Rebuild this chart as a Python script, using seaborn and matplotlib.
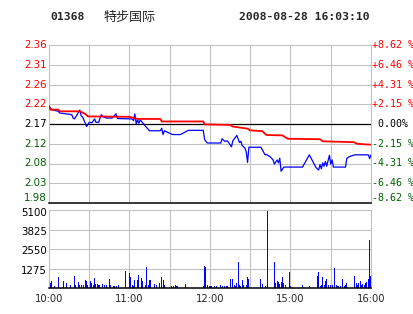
import numpy as np
import pandas as pd
import matplotlib
matplotlib.use("Agg")
import matplotlib.pyplot as plt
import seaborn as sns

# ---------------- data ----------------
stock_code = "01368"
stock_name = "特步国际"
timestamp = "2008-08-28 16:03:10"
prev_close = 2.17
pct_levels = [8.62, 6.46, 4.31, 2.15, 0.0, -2.15, -4.31, -6.46, -8.62]
price_labels = ["2.36", "2.31", "2.26", "2.22", "2.17", "2.12", "2.08", "2.03", "1.98"]
pct_labels = ["+8.62 %", "+6.46 %", "+4.31 %", "+2.15 %", " 0.00%",
              "-2.15 %", "-4.31 %", "-6.46 %", "-8.62 %"]
time_ticks = [0, 60, 120, 180, 240]
time_labels = ["10:00", "11:00", "12:00", "15:00", "16:00"]
vol_ticks = [1275, 2550, 3825, 5100]

price_min = [0, 2, 7, 8, 13, 17, 18, 19, 23, 24, 25, 28, 30, 32, 34, 35, 37, 39,
             41, 43, 47, 50, 51, 62, 63, 64, 65, 66, 67, 68, 70, 72, 75, 83, 84,
             85, 86, 92, 98, 101, 102, 104, 115, 116, 118, 128, 129, 131, 133,
             136, 137, 140, 142, 143, 144, 146, 147, 148, 149, 158, 161, 162,
             165, 167, 168, 170, 171, 172, 173, 175, 189, 194, 197, 199, 201,
             202, 203, 204, 205, 206, 207, 209, 210, 211, 212, 221, 222, 224,
             228, 238, 239, 240]
price_val = [2.212, 2.204, 2.200, 2.196, 2.194, 2.192, 2.184, 2.182, 2.203, 2.189,
             2.187, 2.164, 2.174, 2.173, 2.182, 2.174, 2.174, 2.192, 2.186, 2.184,
             2.184, 2.194, 2.183, 2.182, 2.178, 2.194, 2.170, 2.180, 2.172, 2.180,
             2.172, 2.164, 2.154, 2.154, 2.160, 2.145, 2.154, 2.145, 2.145, 2.150,
             2.152, 2.155, 2.155, 2.133, 2.125, 2.125, 2.135, 2.129, 2.130, 2.116,
             2.130, 2.143, 2.126, 2.129, 2.119, 2.113, 2.104, 2.079, 2.115, 2.115,
             2.097, 2.098, 2.092, 2.085, 2.075, 2.085, 2.078, 2.089, 2.058, 2.068,
             2.068, 2.097, 2.079, 2.067, 2.061, 2.074, 2.064, 2.078, 2.070, 2.081,
             2.070, 2.096, 2.075, 2.085, 2.068, 2.068, 2.089, 2.093, 2.097, 2.097,
             2.088, 2.097]

avg_min = [0, 1, 7, 8, 23, 27, 29, 60, 65, 66, 83, 84, 115, 116, 135, 137, 148,
           150, 159, 162, 174, 178, 202, 204, 227, 230, 240]
avg_val = [2.213, 2.204, 2.204, 2.200, 2.200, 2.194, 2.188, 2.187, 2.183, 2.182,
           2.182, 2.176, 2.176, 2.169, 2.168, 2.164, 2.159, 2.155, 2.153, 2.144,
           2.143, 2.135, 2.134, 2.129, 2.127, 2.123, 2.121]

vol_min = [1, 2, 4, 7, 11, 13, 16, 19, 20, 22, 23, 24, 26, 27, 28, 29, 31, 32, 33,
           34, 35, 36, 37, 38, 40, 41, 43, 45, 46, 48, 49, 50, 52, 57, 60, 61, 62,
           63, 64, 66, 67, 69, 70, 72, 73, 74, 75, 76, 79, 80, 82, 84, 85, 86, 91,
           93, 94, 95, 96, 102, 115, 116, 117, 118,
           120, 121, 123, 125, 128, 129, 131, 132, 133, 135, 137, 138, 139, 140,
           141, 142, 143, 144, 145, 147, 148, 149, 158, 159, 161, 163, 168, 169,
           170, 171, 172, 173, 174, 175, 176, 179, 180, 189, 194, 200, 201, 202,
           203, 204, 205, 206, 207, 208, 210, 211, 213, 214, 215, 216, 217, 219,
           220, 221, 222, 228, 229, 230, 231, 232, 233, 234, 235, 236, 237, 238,
           239, 240]
vol_val = [327, 436, 109, 698, 480, 327, 174, 763, 218, 371, 218, 174, 218, 545,
           480, 218, 480, 327, 218, 632, 283, 262, 218, 174, 283, 174, 218, 610,
           218, 152, 152, 152, 218, 1090, 1000, 698, 174, 152, 501, 501, 828, 632,
           436, 218, 1395, 218, 545, 501, 262, 174, 327, 719, 501, 218, 152, 152,
           218, 152, 109, 283, 152, 1454, 1389, 217,
           152, 152, 152, 152, 217, 152, 152, 152, 152, 608, 608, 217, 152, 347,
           1706, 217, 152, 542, 217, 217, 738, 608, 608, 282, 152, 5035, 1706, 347,
           477, 412, 282, 412, 738, 347, 217, 1063, 152, 217, 152, 803, 1063, 152,
           217, 738, 217, 477, 608, 217, 217, 217, 1327, 217, 152, 152, 152, 608,
           152, 217, 347, 803, 347, 217, 347, 477, 217, 282, 217, 347, 412, 608,
           3147, 803]

# ---------------- style ----------------
RED = "#ff0000"
GREEN = "#005f00"
BLUE = "#0000ff"
GRID = "#c0c0c0"
sns.set_style("white")
plt.rcParams["font.family"] = ["DejaVu Sans"]

W, H = 414, 314
PX = 0.72  # points per pixel at dpi 100
fig = plt.figure(figsize=(W / 100, H / 100), dpi=100)
L, R = 49, 371
axp = fig.add_axes([L / W, 1 - 203 / H, (R - L) / W, 158 / H])
axv = fig.add_axes([L / W, 1 - 288 / H, (R - L) / W, 78 / H])

pdf = pd.DataFrame({"m": price_min, "p": price_val})
adf = pd.DataFrame({"m": avg_min, "p": avg_val})
vdf = pd.DataFrame({"m": vol_min, "v": vol_val})

levels = [prev_close * (1 + p / 100) for p in pct_levels]
ylo, yhi = levels[-1], levels[0]


def ylabel(ax, xfrac, y, text, dx_px, dy_px, ha, **kw):
    ax.annotate(text, xy=(xfrac, y), xycoords=("axes fraction", "data"),
                xytext=(dx_px * PX, dy_px * PX), textcoords="offset points",
                ha=ha, va="center", annotation_clip=False, **kw)


# ---- price panel ----
for t in range(0, 241, 30):
    axp.axvline(t, color=GRID, lw=0.75, zorder=0)
for lv in levels[1:-1]:
    if abs(lv - prev_close) > 1e-9:
        axp.axhline(lv, color=GRID, lw=0.75, zorder=0)
axp.axhline(prev_close, color="black", lw=0.9, zorder=1)
sns.lineplot(data=adf, x="m", y="p", ax=axp, color=RED, lw=1.3,
             estimator=None, zorder=3)
sns.lineplot(data=pdf, x="m", y="p", ax=axp, color=BLUE, lw=0.9,
             estimator=None, zorder=2)
axp.set_xlim(0, 240)
axp.set_ylim(ylo, yhi)
axp.set_xticks([])
axp.set_yticks([])
axp.set_xlabel("")
axp.set_ylabel("")
colors_l = [RED] * 4 + ["black"] + [GREEN] * 4
for i, (lv, lab, plab, c) in enumerate(zip(levels, price_labels, pct_labels, colors_l)):
    dy = 5 if i == len(levels) - 1 else 0
    ylabel(axp, 0, lv, lab, -2, dy, "right", fontsize=7.4, color=c)
    ylabel(axp, 1, lv, plab, 1, dy, "left", fontsize=7.2, color=c,
           family="DejaVu Sans Mono")
for s in ["top", "left", "right"]:
    axp.spines[s].set_color(GRID)
    axp.spines[s].set_linewidth(0.75)
axp.spines["bottom"].set_color("black")
axp.spines["bottom"].set_linewidth(1.1)

# ---- volume panel ----
sns.barplot(data=vdf, x="m", y="v", ax=axv, native_scale=True, color=BLUE,
            saturation=1, errorbar=None, width=0.75, linewidth=0,
            antialiased=False, zorder=2)
axv.set_xlim(0, 240)
axv.set_ylim(0, 5100)
for t in range(0, 241, 30):
    axv.axvline(t, color=GRID, lw=0.75, zorder=0)
for v in vol_ticks[:-1]:
    axv.axhline(v, color=GRID, lw=0.75, zorder=0)
axv.set_yticks([])
for i, v in enumerate(vol_ticks):
    dy = -3.5 if i == len(vol_ticks) - 1 else -2.5
    ylabel(axv, 0, v, str(v), -2, dy, "right", fontsize=7.4, color="black")
axv.set_xticks(time_ticks)
axv.set_xticklabels(time_labels, fontsize=7.2)
axv.tick_params(axis="x", length=0, pad=4)
axv.set_xlabel("")
axv.set_ylabel("")
for s in ["top", "left", "right"]:
    axv.spines[s].set_color(GRID)
    axv.spines[s].set_linewidth(0.75)
axv.spines["bottom"].set_color("black")
axv.spines["bottom"].set_linewidth(1.1)

# ---- header ----
yt = 1 - 17 / H
fig.text(50 / W, yt, stock_code, fontsize=8.2, fontweight="bold",
         family="DejaVu Sans Mono", va="center", ha="left")
fig.text(104 / W, yt, stock_name, fontsize=9.4,
         family=["Noto Sans CJK SC", "DejaVu Sans"], va="center", ha="left")
fig.text(370 / W, yt, timestamp, fontsize=8.2, fontweight="bold",
         family="DejaVu Sans Mono", va="center", ha="right")

fig.savefig("out.png", dpi=100)
